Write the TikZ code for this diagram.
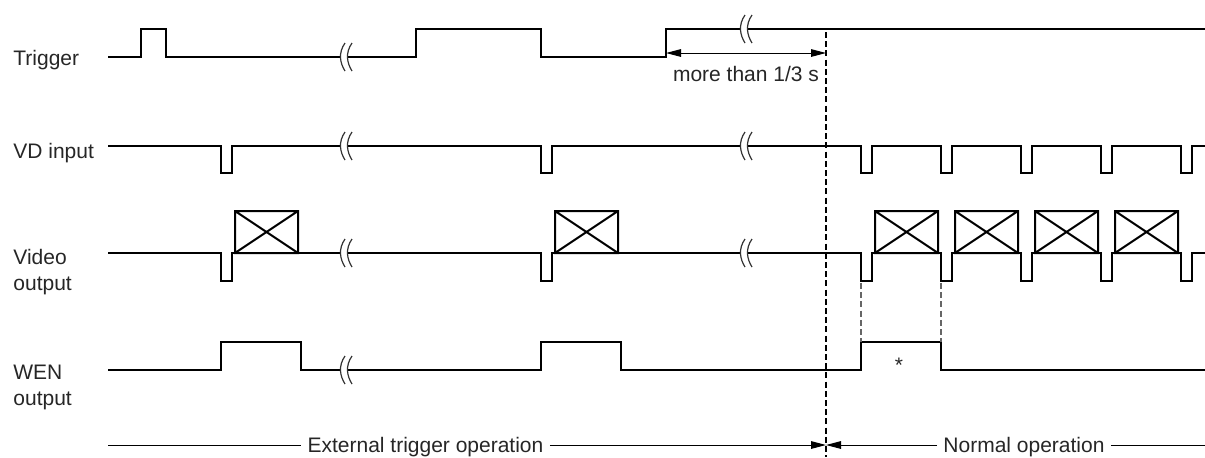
\documentclass[tikz,border=0pt]{standalone}
\usepackage{fontspec}
\setmainfont{Liberation Sans}
\usetikzlibrary{arrows.meta}
\tikzset{
  sig/.style={line width=1pt, line join=miter},
  dimline/.style={line width=0.5pt},
  cutline/.style={line width=0.6pt, dash pattern=on 3pt off 1.6pt},
  lbl/.style={font=\fontsize{10.5}{12.75}\selectfont, text=black!85, inner sep=0pt, align=left},
  oplbl/.style={font=\fontsize{10.5}{12.75}\selectfont, text=black!85, inner sep=3pt, text depth=0pt},
  brk/.pic={
    \fill[white] (-5.5,-2.5) rectangle (1.5,2.5);
    \draw[line width=0.6pt, black!80] (-1,-14) .. controls (-8,-4) and (-6,6) .. (-1,14);
    \draw[line width=0.6pt, black!80] (6,-14) .. controls (-1,-4) and (1,6) .. (6,14);
  },
  >={Triangle[length=7.5pt,width=3.8pt]}
}
\begin{document}
\begin{tikzpicture}[x=0.5pt,y=-0.5pt]
\useasboundingbox (0,0) rectangle (1205,457);

\node[lbl, anchor=base west] (trig) at (13,65) {Trigger};
\node[lbl, anchor=base west] (vd) at (13,158) {VD input};
\node[lbl, anchor=base west] (video) at (13,290) {Video\\output};
\node[lbl, anchor=base west] (wen) at (13,405) {WEN\\output};

\draw[sig] (108,57) -- (141,57) -- (141,29) -- (166,29) -- (166,57) -- (416,57) -- (416,29)
  -- (541,29) -- (541,57) -- (666,57) -- (666,29) -- (1205,29);
\draw[sig] (108,146) \foreach \p in {221,541,861,941,1021,1101,1181}
  { -- (\p,146) -- (\p,173) -- (\p+11,173) -- (\p+11,146) } -- (1205,146);
\draw[sig] (108,253) \foreach \p in {221,541,861,941,1021,1101,1181}
  { -- (\p,253) -- (\p,281) -- (\p+11,281) -- (\p+11,253) } -- (1205,253);
\foreach \p in {221,541,861,941,1021,1101}
  \draw[sig] (\p+14,253) rectangle (\p+77,211) (\p+14,253) -- (\p+77,211) (\p+14,211) -- (\p+77,253);
\draw[sig] (108,370) -- (221,370) -- (221,342) -- (301,342) -- (301,370) -- (541,370) -- (541,342)
  -- (621,342) -- (621,370) -- (861,370) -- (861,342) -- (941,342) -- (941,370) -- (1205,370);

\foreach \y in {57,146,253,370}
  \pic at (346,\y) {brk};
\foreach \y in {29,146,253}
  \pic at (746,\y) {brk};

\coordinate (cutTop) at (826,32);
\coordinate (cutBot) at (826,457);
\draw[cutline] (cutTop) -- (cutBot);
\foreach \x in {861,941}
  \draw[cutline, black!60] (\x,283) -- (\x,342);

\coordinate (hi) at (666,53);
\coordinate (cutA) at (826,53);
\draw[dimline,<->] (hi) -- (cutA);
\node[lbl, anchor=base] (more) at (746,81) {more than 1/3 s};
\node[lbl, anchor=base] (star) at (899,372) {*};

\node[oplbl] (ext) at (425.5,445) {External trigger operation};
\node[oplbl] (norm) at (1024,445) {Normal operation};
\coordinate (cutB) at (826,445);
\draw[dimline] (108,445) -- (ext);
\draw[dimline,->] (ext) -- (cutB);
\draw[dimline,->] (norm) -- (cutB);
\draw[dimline] (norm) -- (1205,445);
\end{tikzpicture}
\end{document}
